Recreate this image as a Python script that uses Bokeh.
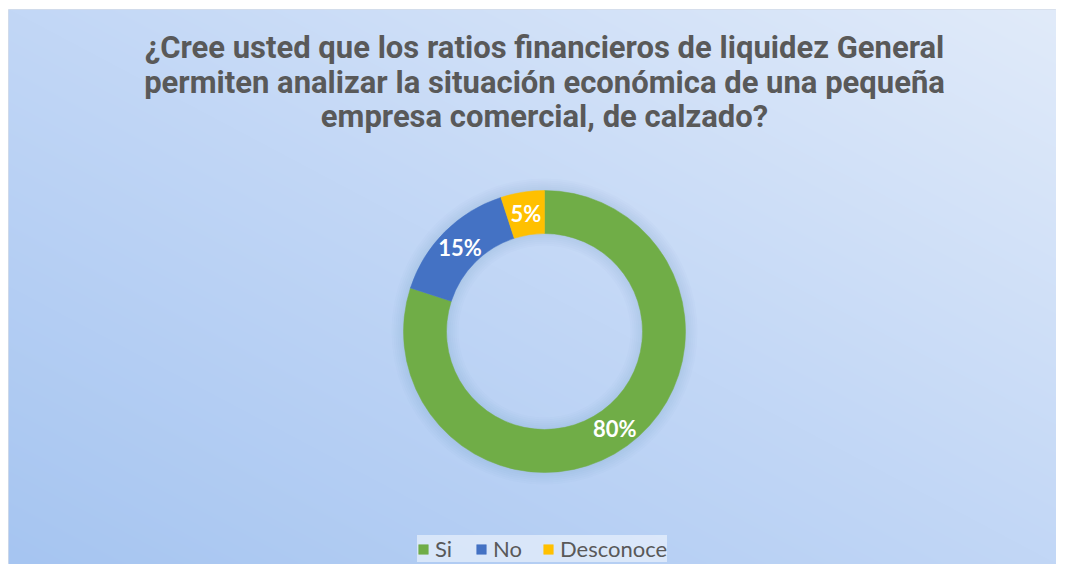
import numpy as np
from bokeh.plotting import figure
from bokeh.models import ColumnDataSource, Legend, LegendItem, Label, Range1d
from bokeh.core.properties import value
from bokeh.embed import file_html
from bokeh.resources import INLINE

# ---- data ----
categories = ["Si", "No", "Desconoce"]
values = [80, 15, 5]
colors = ["#70AD47", "#4472C4", "#FFC000"]
title_lines = [
    "¿Cree usted que los ratios financieros de liquidez General",
    "permiten analizar la situación económica de una pequeña",
    "empresa comercial, de calzado?",
]

W, H = 1056, 564
ML, MT = 8, 9           # white margin left / top
# data units = pixels; y measured upward from 580 (reference canvas bottom)
X0, X1 = ML, W
Y0, Y1 = 580 - H, 580 - MT
p = figure(width=W, height=H, output_backend="svg", toolbar_location=None,
           x_range=Range1d(X0, X1), y_range=Range1d(Y0, Y1),
           min_border=0, min_border_left=ML, min_border_top=MT,
           outline_line_color="#d6dde8", outline_line_width=1)
p.axis.visible = False
p.grid.visible = False
p.background_fill_color = "#c3d7f5"
p.border_fill_color = "white"

# background gradient (bottom-left darker -> top-right lighter)
FW, FH = X1 - X0, Y1 - Y0
gx = np.linspace(0, 1, FW)[None, :]
gy = np.linspace(0, 1, FH)[:, None]
t = (gx + gy) / 2.0
c0 = np.array([166, 197, 241.0])
c1 = np.array([194, 215, 246.0])
c2 = np.array([225, 235, 250.0])
tt = t[..., None]
col = np.where(tt < 0.5, c0 + (c1 - c0) * (tt / 0.5), c1 + (c2 - c1) * ((tt - 0.5) / 0.5))
col = col.astype(np.uint32)
img = (255 << 24) | (col[..., 2] << 16) | (col[..., 1] << 8) | col[..., 0]
p.image_rgba(image=[img.astype(np.uint32)], x=X0, y=Y0, dw=FW, dh=FH)

# ---- donut ----
cx, cy = 544, 580 - 331
r_in, r_out = 98, 141
vals = np.array(values, dtype=float)
frac = vals / vals.sum()
cum = np.concatenate([[0], np.cumsum(frac)])
start = np.pi / 2 - 2 * np.pi * cum[:-1]
end = np.pi / 2 - 2 * np.pi * cum[1:]
mid = (start + end) / 2
r_mid = (r_in + r_out) / 2

# soft shadow around ring
for k in range(6):
    p.annulus(x=cx, y=cy, inner_radius=r_in - 2 - k * 2, outer_radius=r_out + 2 + k * 2,
              fill_color="#5a7fb0", fill_alpha=0.025, line_color=None)

src = ColumnDataSource(dict(
    cat=categories, val=values, color=colors, start=start, end=end,
    lx=cx + r_mid * np.cos(mid), ly=cy + r_mid * np.sin(mid),
    lab=[f"{v}%" for v in values],
))
wedges = p.annular_wedge(x=cx, y=cy, inner_radius=r_in, outer_radius=r_out,
                         start_angle="start", end_angle="end", direction="clock",
                         fill_color="color", line_color="color", line_width=0.5,
                         source=src)
p.text(x="lx", y="ly", text="lab", source=src, text_align="center",
       text_baseline="middle", text_color="white", text_font=value("Lato"),
       text_font_style="bold", text_font_size="22px")

# ---- title ----
for i, line in enumerate(title_lines):
    p.add_layout(Label(x=544, y=580 - 47 - i * 34.5, text=line,
                       text_align="center", text_baseline="middle",
                       text_font="Roboto", text_font_style="bold",
                       text_font_size="31px", text_color="#595959"))

# ---- legend ----
items = [LegendItem(label=c, renderers=[wedges], index=i) for i, c in enumerate(categories)]
legend = Legend(items=items, orientation="horizontal", location=(405 - ML + 12, 2),
                glyph_width=12, glyph_height=12, label_standoff=6, spacing=20,
                padding=10, margin=0, label_text_font="Lato",
                label_text_font_size="22px", label_text_color="#595959",
                label_height=21, border_line_color=None,
                background_fill_color="#f2f6fd", background_fill_alpha=0.6)
p.add_layout(legend, "center")

open("out.html", "w").write(file_html(p, INLINE))
